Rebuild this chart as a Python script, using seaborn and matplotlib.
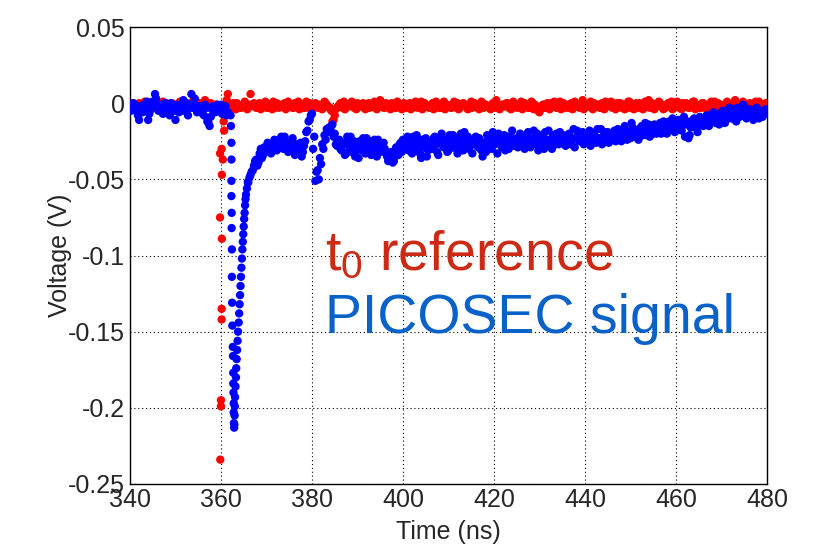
import numpy as np
import pandas as pd
import matplotlib
matplotlib.use("Agg")
import matplotlib.pyplot as plt
import seaborn as sns
from matplotlib.ticker import MultipleLocator, FuncFormatter

# scope sampling used when reading the traces off the picture
dt = 0.5  # ns, the "mid" lists sit half a step later

# t0 reference (red), values in mV
red_pre_start = 340.0
red_pre_mv = [-2, -3, -1, -2, 0, -3, -2, -1, -3, -2,
              1, -2, -3, -1, -2, -2, 0, -3, -1, -2,
              -3, -2, 1, -1, -3, -2, -2, 0, -1, -3,
              -2, -1, -3, 2, -2, -1, -3, -2, -1, -4]
red_pre_mid_mv = [-3, 0, -2, -4, -1, -2, 1, -3, -2, -4,
                  -1, 0, -2, -3, 1, -1, -4, -2, 0, -3,
                  -1, -2, -4, 0, -2, -1, -3, 1, -2, -4,
                  0, -2, -1, -3, -2, 0, -4, -1, -3]
red_pulse_t = [359.8, 359.8, 359.85, 360.0, 360.0, 360.15, 360.15, 360.2, 360.2, 360.15, 360.4, 360.6, 360.7]
red_pulse_mv = [-33, -75, -234, -199, -195, -142, -135, -89, -47, -30, -37, -12, -18]
red_post_start = 361.0
red_post_mv = [-6, 6, -1, -3, -2, 0, -2, -3, -1, -2, -3, 6, -1, -2, -3, 0, -2, -1, -3, -2,
               -2, 1, -3, -1, -2, -2, 0, -3, -1, -2, -3, -2, 1, -1, -2, -3, -2, 0, -1, -3,
               -2, -1, -3, -2, 0, -2, -3, -12, -8, -3, -1, -2, 1, -3, -2, -1, -2, -3, 0, -2,
               -1, -3, -2, 0, -2, -1, -3, -2, 2, -1, -3, -2, -1, 0, -2, -3, -1, -2, -3, -1,
               -2, 0, -3, -1, -2, -2, 1, -3, -1, -2, -3, 0, -2, -1, -3, -2, 1, -1, -2, -3,
               -2, -1, 0, -3, -2, -1, -2, -3, 1, -2, -1, -3, -2, 0, -1, -2, -3, -2, -1, 2,
               -2, -3, -1, -2, 0, -3, -2, -1, -3, -2, 1, -2, -1, -3, -2, 0, -1, -3, -6, -2,
               -1, -3, -2, 0, -2, -1, -3, 1, -2, -3, -1, -2, 0, -3, -2, -1, -2, 2, -3, -1,
               -2, -3, 0, -1, -2, -3, -1, 1, -2, -2, -3, -1, 0, -2, -3, -1, -2, 1, -3, -2,
               -1, -2, 0, -3, -2, -1, 2, -2, -3, -1, -2, 0, -3, -2, -1, -2, 1, -3, -1, -2,
               -3, 0, -2, -1, -3, -2, 1, -1, -2, -3, 0, -2, -1, -3, -2, 1, -2, -1, -3, -2,
               0, -2, -1, -3, 2, -2, -1, -3, 0, -2, -1, -2, -3, 1, -2, -1, -3, -2, 0]
red_post_mid_mv = [2, -3, -2, 0, -4, -1, -3, -2, 1, -4, -1, -2, 0, -3, -1, -4, -2, 1, -3, -1,
                   -4, -2, 0, -3, -1, -2, -4, 1, -2, -3, 0, -1, -4, -2, -3, 1, -2, -4, -1, 0,
                   -3, -2, -4, 1, -1, -3, -5, -11, -4, -2, 0, -3, -4, -1, -2, 1, -3, -4, -1, -2,
                   0, -4, -1, -3, -2, 1, -4, -2, -1, -3, 0, -2, -4, -1, -3, 1, -2, -4, 0, -3,
                   -1, -4, -2, 1, -3, -1, -4, 0, -2, -3, -1, -4, 1, -2, -3, 0, -4, -1, -2, -3,
                   1, -3, -4, -1, 0, -2, -4, -1, -3, 0, -2, -4, 1, -3, -1, -2, -4, 0, -3, -1,
                   -4, -1, -2, 0, -3, -4, 1, -2, -1, -3, -4, 0, -2, -3, 1, -4, -2, -5, -4, -1,
                   -3, 0, -4, -2, 1, -3, -1, -4, 0, -2, -3, -1, -4, 1, -2, -3, 0, -4, -1, -2,
                   1, -4, -2, -1, -3, 0, -4, -2, -1, 1, -3, -4, -2, 0, -1, -4, -3, 1, -2, -4,
                   0, -3, -1, -4, 1, -2, -3, 0, -4, -2, 1, -1, -4, -3, 0, -2, -4, -1, 1, -3,
                   -4, -2, 0, -3, -1, 1, -4, -2, -3, 0, -1, -4, -2, 1, -3, -4, 0, -1, -2, -4,
                   1, -3, -2, -4, 0, -1, -3, 1, -4, -2, 0, -3, -1, -4, 1, -2, -3, 0]

# PICOSEC signal (blue), values in mV
blue_pre_start = 340.0
blue_pre_mv = [-2, -4, -1, -5, -11, -3, -1, -4, -11, -2,
               1, 6, -2, -4, -1, -3, -6, -2, 0, -4,
               -11, -3, -1, -5, -2, 0, -3, 6, -1, -4,
               -2, -6, -3, -1, -12, -15, -4, -2, -3, -5,
               -1, -4, -2, -6]
blue_pre_mid_mv = [-5, 0, -3, -8, -2, -6, -4, 1, -7, -3,
                   -1, 3, -5, -2, -7, 0, -4, -8, -2, -5,
                   -1, -6, -3, 2, -4, -8, -1, -3, 3, -6,
                   -2, -5, -8, -3, -13, -9, -2, -6, -1, -4,
                   -7, -3, -8]
blue_pulse_t = [362.1, 362.2, 362.3, 362.3, 362.3, 362.3, 362.35, 362.35, 362.4, 362.4, 362.45, 362.5,
                362.6, 362.65, 362.7, 362.7, 362.75, 362.8, 362.8, 362.85, 362.9,
                362.95, 363.0, 363.05, 363.1, 363.2, 363.3, 363.35, 363.45, 363.55, 363.65, 363.75,
                363.9, 364.0, 364.1, 364.2, 364.3, 364.4, 364.5, 364.6, 364.7, 364.8, 364.9, 365.0,
                365.1, 365.2, 365.3, 365.4, 365.5, 365.7, 365.9]
blue_pulse_mv = [-8, -15, -26, -37, -51, -61, -72, -82, -96, -114, -131, -146,
                 -160, -166, -177, -184, -190, -197, -203, -210, -213,
                 -211, -205, -199, -193, -186, -180, -174, -168, -162, -156, -150,
                 -144, -138, -132, -126, -120, -114, -108, -102, -96, -91, -86, -81,
                 -76, -72, -67, -63, -60, -56, -52]
blue_post_start = 366.0
blue_post_mv = [-52, -47, -44, -38, -41, -33, -36, -29, -31, -27, -33, -28, -25, -30, -24, -28, -22, -27, -31, -25,
                -29, -33, -30, -26, -32, -25, -18, -11, -7, -22, -45, -50, -40, -30, -24, -19, -18, -14, -20, -28,
                -24, -31, -27, -33, -26, -22, -29, -35, -28, -25, -31, -27, -23, -30, -34, -26, -29, -24, -32, -28,
                -30, -35, -37, -32, -38, -29, -34, -26, -24, -30, -22, -28, -33, -25, -21, -29, -36, -27, -23, -31,
                -25, -28, -22, -32, -26, -20, -29, -24, -31, -27, -21, -26, -33, -23, -28, -19, -25, -30, -24, -27,
                -22, -29, -25, -35, -28, -21, -24, -30, -23, -26, -20, -27, -24, -31, -22, -25, -18, -28, -23, -26,
                -21, -27, -24, -19, -29, -23, -25, -20, -26, -22, -30, -24, -18, -25, -21, -27, -23, -19, -26, -22,
                -24, -20, -27, -17, -23, -21, -25, -19, -26, -22, -18, -24, -20, -26, -23, -17, -22, -25, -19, -21,
                -24, -18, -22, -20, -25, -17, -21, -19, -23, -16, -20, -18, -22, -15, -19, -21, -14, -18, -20, -16,
                -19, -13, -17, -15, -20, -12, -16, -14, -18, -11, -15, -13, -22, -12, -21, -14, -10, -16, -13, -11,
                -15, -10, -13, -8, -12, -11, -7, -14, -9, -12, -6, -10, -8, -4, -11, -3, -9, -6, -2, -10,
                -7, -5, -11, -4, -8, -6, -9, -5, -7]
blue_post_mid_mv = [-49, -45, -41, -37, -39, -30, -34, -32, -26, -30, -29, -24, -31, -27, -22, -30, -26, -32, -28, -23,
                    -34, -27, -31, -35, -28, -19, -12, -8, -30, -51, -44, -36, -27, -21, -17, -16, -15, -22, -27, -25,
                    -30, -26, -34, -22, -29, -32, -25, -31, -36, -27, -23, -33, -28, -25, -31, -24, -35, -27, -30, -26,
                    -33, -38, -34, -39, -35, -31, -27, -32, -29, -25, -31, -27, -22, -30, -26, -33, -24, -29, -35, -27,
                    -30, -23, -27, -34, -22, -28, -25, -32, -21, -29, -24, -30, -26, -20, -31, -27, -22, -28, -33, -24,
                    -27, -23, -31, -26, -32, -24, -28, -19, -27, -33, -23, -29, -21, -26, -30, -22, -27, -24, -29, -20,
                    -26, -30, -22, -28, -24, -18, -27, -31, -22, -25, -19, -28, -24, -30, -23, -20, -27, -25, -21, -28,
                    -21, -26, -23, -29, -18, -25, -22, -27, -20, -24, -28, -21, -25, -17, -23, -27, -19, -22, -26, -24,
                    -20, -25, -17, -23, -21, -15, -24, -19, -13, -22, -18, -24, -16, -21, -13, -18, -22, -17, -14, -20,
                    -16, -20, -12, -18, -14, -17, -10, -19, -15, -12, -18, -9, -14, -23, -16, -11, -15, -19, -9, -14,
                    -12, -8, -15, -10, -6, -13, -9, -11, -5, -13, -8, -3, -10, -7, -12, -4, -8, -1, -6, -9,
                    -4, -9, -6, -3, -10, -5, -8, -4]


def trace(start, mv):
    t = start + dt * np.arange(len(mv))
    return pd.DataFrame({"time": t, "voltage": np.array(mv) / 1000.0})


red = pd.concat([trace(red_pre_start, red_pre_mv),
                 trace(red_pre_start + dt / 2, red_pre_mid_mv),
                 pd.DataFrame({"time": red_pulse_t, "voltage": np.array(red_pulse_mv) / 1000.0}),
                 trace(red_post_start, red_post_mv),
                 trace(red_post_start + dt / 2, red_post_mid_mv)])
red["ch"] = "t0"
blue = pd.concat([trace(blue_pre_start, blue_pre_mv),
                  trace(blue_pre_start + dt / 2, blue_pre_mid_mv),
                  pd.DataFrame({"time": blue_pulse_t, "voltage": np.array(blue_pulse_mv) / 1000.0}),
                  trace(blue_post_start, blue_post_mv),
                  trace(blue_post_start + dt / 2, blue_post_mid_mv)])
blue["ch"] = "pico"
df = pd.concat([red, blue], ignore_index=True)

sns.set_style("white")
plt.rcParams["font.family"] = ["Liberation Sans", "DejaVu Sans"]
plt.rcParams["axes.unicode_minus"] = False
plt.rcParams["mathtext.fontset"] = "custom"
plt.rcParams["mathtext.rm"] = "Liberation Sans"
plt.rcParams["mathtext.default"] = "regular"

fig = plt.figure(figsize=(8.2, 5.49), dpi=100)
ax = fig.add_axes([0.1585, 0.1184, 0.7768, 0.8324])

sns.scatterplot(data=df, x="time", y="voltage", hue="ch",
                palette={"t0": "#ff0000", "pico": "#0000ff"},
                s=36, linewidth=0, legend=False, ax=ax, zorder=3)

ax.set_xlim(340, 480)
ax.set_ylim(-0.25, 0.05)
ax.xaxis.set_major_locator(MultipleLocator(20))
ax.xaxis.set_minor_locator(MultipleLocator(5))
ax.yaxis.set_major_locator(MultipleLocator(0.05))
ax.yaxis.set_minor_locator(MultipleLocator(0.01))
ax.yaxis.set_major_formatter(FuncFormatter(lambda v, p: "%g" % round(v, 3)))
ax.tick_params(which="major", direction="in", length=9, width=1, labelsize=18, color="black")
ax.tick_params(which="minor", direction="in", length=4.5, width=1, color="black")
ax.tick_params(axis="x", pad=3)
ax.grid(True, which="major", linestyle=(0, (1, 2.5)), color="black", linewidth=0.8)
for sp in ax.spines.values():
    sp.set_color("black")
    sp.set_linewidth(1)

ax.set_xlabel("Time (ns)", fontsize=18, labelpad=6)
ax.set_ylabel("Voltage (V)", fontsize=18, labelpad=-3)

ax.text(382.9, -0.1095, r"t$_0$ reference", fontsize=40, color="#cc2a14", va="baseline", zorder=5)
ax.text(382.9, -0.151, "PICOSEC signal", fontsize=40, color="#0a62c9", va="baseline", zorder=5)

fig.savefig("out.png", dpi=100)
